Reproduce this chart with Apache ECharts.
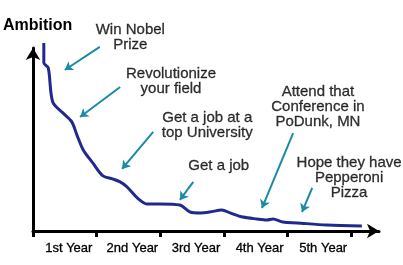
<!DOCTYPE html>
<html>
<head>
<meta charset="utf-8">
<script src="https://cdn.jsdelivr.net/npm/echarts@6/dist/echarts.min.js"></script>
<style>
html,body{margin:0;padding:0;background:#fff;}
#c{width:403px;height:265px;}
</style>
</head>
<body>
<div id="c"></div>
<script>
// ---- data ----
const yearLabels = ['1st Year', '2nd Year', '3rd Year', '4th Year', '5th Year'];
const yearTicks = [0, 1, 2, 3, 4, 5];
const yearLabelPos = [0.5, 1.5, 2.5, 3.5, 4.5];

const careerX = [0.17, 0.17, 0.24, 0.31, 0.47, 0.61, 0.69, 0.79, 0.94, 1.10, 1.25, 1.37, 1.48, 1.64, 1.79, 2.00, 2.31, 2.47, 2.63, 2.78, 2.97, 3.10, 3.30, 3.52, 3.68, 3.77, 3.93, 4.15, 4.62, 5.17];
const ambition = [100, 89.4, 86.7, 68.6, 62.8, 58.0, 51.1, 43.1, 36.2, 29.3, 27.7, 26.1, 23.4, 17.6, 14.4, 14.4, 13.8, 10.1, 9.6, 10.1, 11.2, 9.6, 7.4, 6.4, 5.9, 6.4, 4.8, 4.3, 3.2, 2.7];

const noteText = ['Win Nobel\nPrize', 'Revolutionize\nyour field', 'Get a job at a\ntop University', 'Get a job', 'Attend that\nConference in\nPoDunk, MN', 'Hope they have\nPepperoni\nPizza'];
const noteX = [1.53, 2.17, 2.74, 2.92, 4.48, 4.97];
const noteY = [102.7, 79.8, 56.4, 34.6, 66.0, 28.2];

const arrowFromX = [1.05, 1.37, 1.89, 2.52, 4.09, 4.39];
const arrowFromY = [97.9, 76.6, 52.7, 26.1, 52.1, 22.9];
const arrowToX = [0.50, 0.74, 1.40, 2.31, 3.60, 4.23];
const arrowToY = [85.6, 60.6, 33.0, 16.5, 12.2, 10.1];

// ---- chart ----
const chart = echarts.init(document.getElementById('c'), null, {renderer: 'canvas'});
const font = '"Liberation Sans", Arial, sans-serif';

chart.setOption({
  backgroundColor: '#ffffff',
  animation: false,
  grid: {left: 33, right: 24, top: 48, bottom: 34},
  xAxis: {
    type: 'value', min: 0, max: 5.44,
    splitLine: {show: false},
    axisLine: {show: true, lineStyle: {color: '#000', width: 3}, symbol: ['none', 'arrow'], symbolSize: [11, 12]},
    axisTick: {show: true, customValues: yearTicks, length: 6, inside: false, lineStyle: {color: '#000', width: 3}},
    axisLabel: {
      show: true, customValues: yearLabelPos, margin: 11, padding: [0, 0, 0, 8],
      fontFamily: font, fontSize: 13, color: '#000',
      textBorderColor: '#000', textBorderWidth: 0.3,
      formatter: v => yearLabels[Math.floor(v)]
    }
  },
  yAxis: {
    type: 'value', min: 0, max: 97.3,
    name: 'Ambition', nameLocation: 'end', nameGap: 14,
    nameTextStyle: {fontFamily: font, fontSize: 16, fontWeight: 'bold', color: '#000', align: 'left', padding: [0, 0, 0, -30]},
    splitLine: {show: false},
    axisTick: {show: false},
    axisLabel: {show: false},
    axisLine: {show: true, lineStyle: {color: '#000', width: 3}, symbol: ['none', 'arrow'], symbolSize: [11, 12]}
  },
  series: [
    {
      type: 'line',
      data: careerX.map((x, i) => [x, ambition[i]]),
      showSymbol: false,
      smooth: 0.3,
      clip: false,
      lineStyle: {color: '#1f2a8c', width: 3},
      z: 3
    },
    {
      type: 'lines',
      coordinateSystem: 'cartesian2d',
      clip: false,
      symbol: ['none', 'arrow'],
      symbolSize: 8,
      lineStyle: {color: '#1b8ba5', width: 2, opacity: 1, curveness: 0},
      data: arrowFromX.map((x, i) => ({coords: [[x, arrowFromY[i]], [arrowToX[i], arrowToY[i]]]})),
      z: 4
    },
    {
      type: 'scatter',
      clip: false,
      symbolSize: 0,
      silent: true,
      data: noteX.map((x, i) => [x, noteY[i], noteText[i]]),
      label: {
        show: true, position: 'inside',
        formatter: p => p.data[2],
        fontFamily: font, fontSize: 15, lineHeight: 15, color: '#000', align: 'center', verticalAlign: 'middle',
        textBorderColor: '#000', textBorderWidth: 0.3
      },
      z: 5
    }
  ]
});
</script>
</body>
</html>
